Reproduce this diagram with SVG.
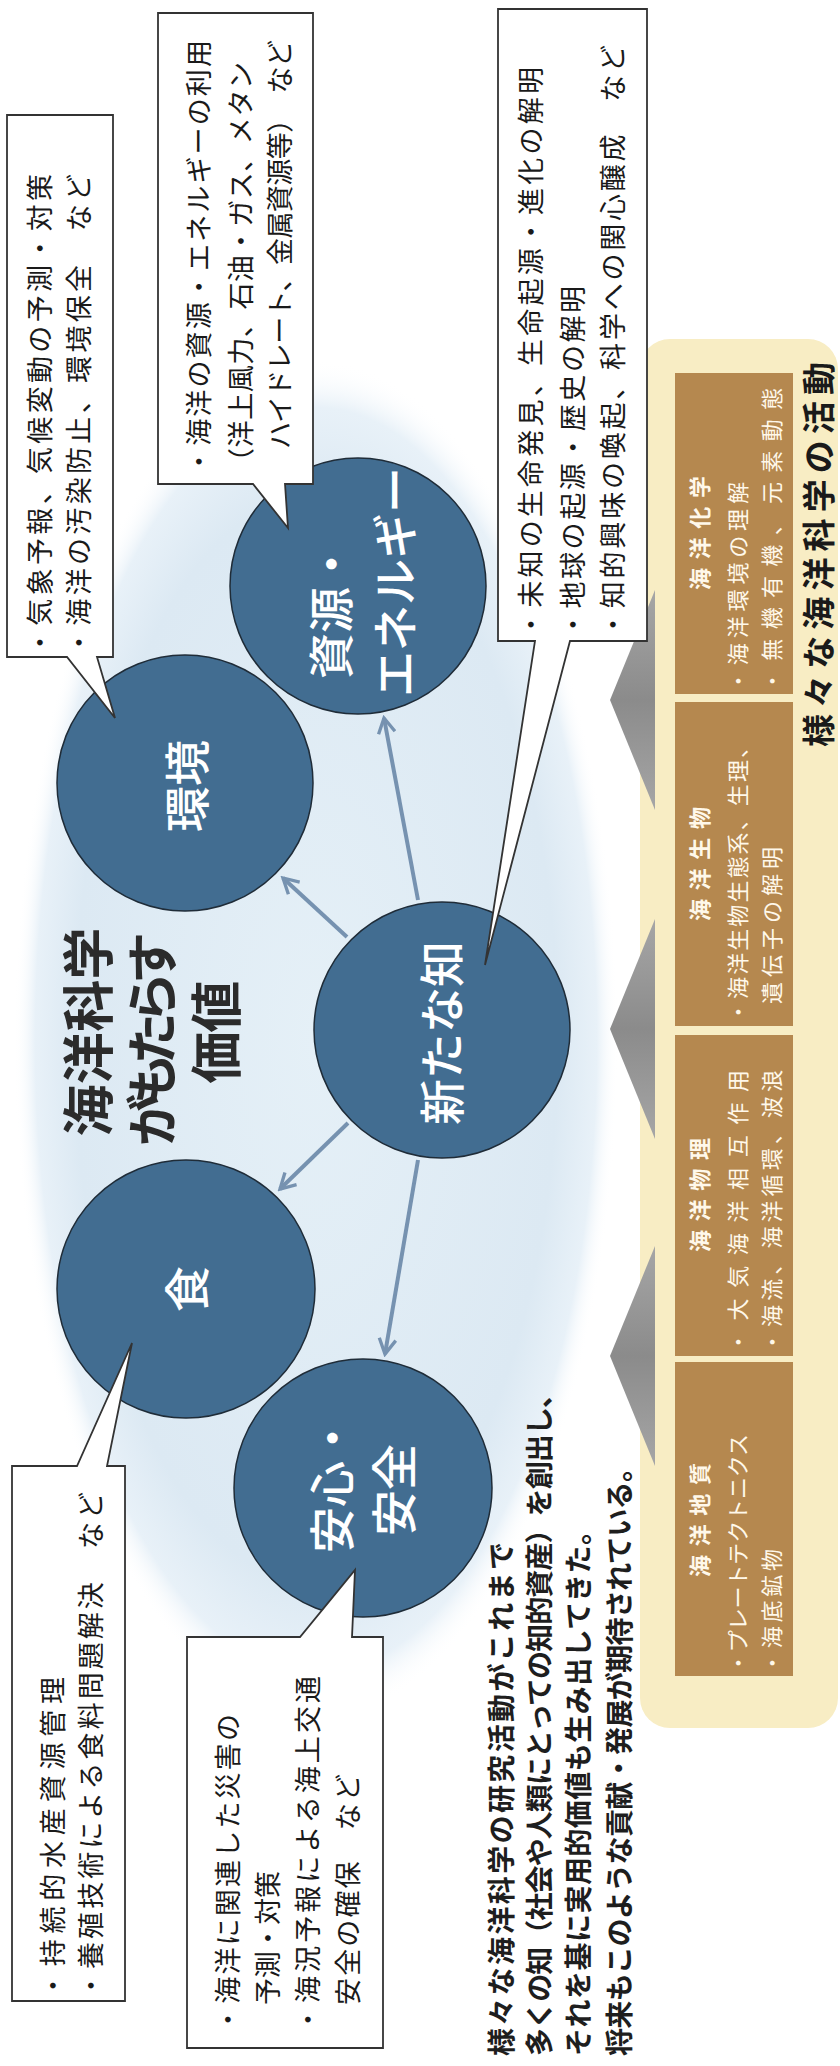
<svg xmlns="http://www.w3.org/2000/svg" width="840" height="2066" viewBox="0 0 840 2066">
<defs>
<radialGradient id="bgGrad" cx="0.5" cy="0.5" r="0.5">
<stop offset="0" stop-color="#e5f0f7"/>
<stop offset="0.8" stop-color="#dce9f3"/>
<stop offset="0.93" stop-color="#e8f1f8"/>
<stop offset="1" stop-color="#ffffff" stop-opacity="0"/>
</radialGradient>
<linearGradient id="triGrad" x1="0" y1="0" x2="0" y2="1">
<stop offset="0" stop-color="#a6a6a6"/>
<stop offset="0.5" stop-color="#8b8b8b"/>
<stop offset="1" stop-color="#a6a6a6"/>
</linearGradient>
<marker id="ah" viewBox="0 0 12 12" refX="10" refY="6" markerWidth="5" markerHeight="5" orient="auto" markerUnits="strokeWidth">
<path d="M1,1 L10,6 L1,11" fill="none" stroke="#7692b0" stroke-width="2"/>
</marker>
<style>
.cj { font-family: "Noto Sans CJK JP", "Noto Sans CJK SC", sans-serif; }
.node circle { fill: #426d91; stroke: #1f2c38; stroke-width: 1.5; }
.lbl { fill: #ffffff; font-size: 46px; font-weight: 500; }
.callout path { fill: #ffffff; stroke: #333333; stroke-width: 1.8; }
.ct { fill: #1a1a1a; font-size: 27px; }
.box rect { fill: #b5884f; }
.bt { fill: #fff8ea; font-size: 22px; }
.btt { fill: #fff8ea; font-size: 22px; font-weight: 700; }
.conn line { stroke: #7692b0; stroke-width: 4; marker-end: url(#ah); }
.tri { fill: url(#triGrad); }
.para { fill: #1e1e1e; font-size: 28px; font-weight: 700; }
.head { fill: #2b2b2b; font-size: 52px; font-weight: 700; }
</style>
</defs>

<rect x="0" y="0" width="840" height="2066" fill="#ffffff"/>

<!-- background -->
<ellipse cx="316" cy="1040" rx="302" ry="680" fill="url(#bgGrad)"/>

<!-- activity panel -->
<g id="panel">
<rect x="640" y="339" width="198" height="1389" rx="30" fill="#f8edc4"/>
<text class="cj" x="831" y="747" transform="rotate(-90 831 747)" font-size="33" font-weight="700" fill="#1a1a1a" textLength="385" lengthAdjust="spacing">様々な海洋科学の活動</text>
</g>

<g id="box-chem" class="box">
<rect x="675" y="373" width="118" height="321"/>
<text class="cj btt" x="708" y="533" text-anchor="middle" transform="rotate(-90 708 533)" textLength="114" lengthAdjust="spacing">海洋化学</text>
<text class="cj bt" x="746" y="692" transform="rotate(-90 746 692)" textLength="210" lengthAdjust="spacing">・海洋環境の理解</text>
<text class="cj bt" x="780" y="692" transform="rotate(-90 780 692)" textLength="304" lengthAdjust="spacing">・無機有機、元素動態</text>
</g>

<g id="box-bio" class="box">
<rect x="675" y="702" width="118" height="324"/>
<text class="cj btt" x="708" y="864" text-anchor="middle" transform="rotate(-90 708 864)" textLength="114" lengthAdjust="spacing">海洋生物</text>
<text class="cj bt" x="746" y="1023" transform="rotate(-90 746 1023)" textLength="287" lengthAdjust="spacing">・海洋生物生態系、生理、</text>
<text class="cj bt" x="780" y="1004" transform="rotate(-90 780 1004)" textLength="157" lengthAdjust="spacing">遺伝子の解明</text>
</g>

<g id="box-phys" class="box">
<rect x="675" y="1035" width="118" height="321"/>
<text class="cj btt" x="708" y="1195" text-anchor="middle" transform="rotate(-90 708 1195)" textLength="114" lengthAdjust="spacing">海洋物理</text>
<text class="cj bt" x="746" y="1353" transform="rotate(-90 746 1353)" textLength="283" lengthAdjust="spacing">・大気海洋相互作用</text>
<text class="cj bt" x="780" y="1353" transform="rotate(-90 780 1353)" textLength="283" lengthAdjust="spacing">・海流、海洋循環、波浪</text>
</g>

<g id="box-geo" class="box">
<rect x="675" y="1362" width="118" height="314"/>
<text class="cj btt" x="708" y="1520" text-anchor="middle" transform="rotate(-90 708 1520)" textLength="114" lengthAdjust="spacing">海洋地質</text>
<text class="cj bt" x="746" y="1674" transform="rotate(-90 746 1674)" textLength="240" lengthAdjust="spacing">・プレートテクトニクス</text>
<text class="cj bt" x="780" y="1674" transform="rotate(-90 780 1674)" textLength="125" lengthAdjust="spacing">・海底鉱物</text>
</g>

<g id="pointers">
<polygon class="tri" points="610,700 655,590 655,810"/>
<polygon class="tri" points="610,1029 655,919 655,1139"/>
<polygon class="tri" points="610,1356 655,1246 655,1466"/>
</g>

<!-- title -->
<g id="title">
<text class="cj head" x="108" y="1032" text-anchor="middle" transform="rotate(-90 108 1032)" textLength="209" lengthAdjust="spacing">海洋科学</text>
<text class="cj head" x="172" y="1039" text-anchor="middle" transform="rotate(-90 172 1039)" textLength="214" lengthAdjust="spacing">がもたらす</text>
<text class="cj head" x="236" y="1032" text-anchor="middle" transform="rotate(-90 236 1032)" textLength="103" lengthAdjust="spacing">価値</text>
</g>

<!-- connectors -->
<g id="connectors" class="conn">
<line x1="418" y1="900" x2="384" y2="718"/>
<line x1="347" y1="937" x2="283" y2="878"/>
<line x1="348" y1="1123" x2="280" y2="1189"/>
<line x1="418" y1="1160" x2="385" y2="1354"/>
</g>

<!-- nodes -->
<g id="node-kankyo" class="node">
<circle cx="185" cy="783" r="128"/>
<text class="cj lbl" x="204" y="786" text-anchor="middle" transform="rotate(-90 204 786)">環境</text>
</g>
<g id="node-shigen" class="node">
<circle cx="358" cy="586" r="128"/>
<text class="cj lbl" x="348" y="679" transform="rotate(-90 348 679)">資源・</text>
<text class="cj lbl" x="412" y="697" transform="rotate(-90 412 697)">エネルギー</text>
</g>
<g id="node-chi" class="node">
<circle cx="442" cy="1030" r="128"/>
<text class="cj lbl" x="459" y="1033" text-anchor="middle" transform="rotate(-90 459 1033)">新たな知</text>
</g>
<g id="node-shoku" class="node">
<circle cx="186" cy="1289" r="129"/>
<text class="cj lbl" x="204" y="1289" text-anchor="middle" transform="rotate(-90 204 1289)">食</text>
</g>
<g id="node-anshin" class="node">
<circle cx="363" cy="1488" r="129"/>
<text class="cj lbl" x="349" y="1553" transform="rotate(-90 349 1553)">安心・</text>
<text class="cj lbl" x="411" y="1490" text-anchor="middle" transform="rotate(-90 411 1490)">安全</text>
</g>

<!-- callouts -->
<g id="callout-kankyo" class="callout">
<path d="M7,115 H113 V657 H97 L115,718 L67,657 H7 Z"/>
<text class="cj ct" x="50" y="656" transform="rotate(-90 50 656)" textLength="482" lengthAdjust="spacing">・気象予報、気候変動の予測・対策</text>
<text class="cj ct" x="89" y="656" transform="rotate(-90 89 656)" textLength="482" lengthAdjust="spacing">・海洋の汚染防止、環境保全　など</text>
</g>
<g id="callout-shigen" class="callout">
<path d="M158,13 H313 V484 H285 L288,528 L253,484 H158 Z"/>
<text class="cj ct" x="209" y="475" transform="rotate(-90 209 475)" textLength="435" lengthAdjust="spacing">・海洋の資源・エネルギーの利用</text>
<text class="cj ct" x="251" y="475" transform="rotate(-90 251 475)" textLength="413" lengthAdjust="spacing">（洋上風力、石油・ガス、メタン</text>
<text class="cj ct" x="290" y="449" transform="rotate(-90 290 449)" textLength="409" lengthAdjust="spacing">ハイドレート、金属資源等）　など</text>
</g>
<g id="callout-chi" class="callout">
<path d="M498,9 H647 V641 H570 L485,965 L535,641 H498 Z"/>
<text class="cj ct" x="541" y="638" transform="rotate(-90 541 638)" textLength="571" lengthAdjust="spacing">・未知の生命発見、生命起源・進化の解明</text>
<text class="cj ct" x="583" y="638" transform="rotate(-90 583 638)" textLength="352" lengthAdjust="spacing">・地球の起源・歴史の解明</text>
<text class="cj ct" x="623" y="638" transform="rotate(-90 623 638)" textLength="593" lengthAdjust="spacing">・知的興味の喚起、科学への関心醸成　など</text>
</g>
<g id="callout-shoku" class="callout">
<path d="M12,1466 H77 L132,1343 L107,1466 H125 V2001 H12 Z"/>
<text class="cj ct" x="63" y="1999" transform="rotate(-90 63 1999)" textLength="322" lengthAdjust="spacing">・持続的水産資源管理</text>
<text class="cj ct" x="101" y="1999" transform="rotate(-90 101 1999)" textLength="507" lengthAdjust="spacing">・養殖技術による食料問題解決　など</text>
</g>
<g id="callout-anshin" class="callout">
<path d="M187,1637 H300 L355,1570 L352,1637 H383 V2048 H187 Z"/>
<text class="cj ct" x="238" y="2033" transform="rotate(-90 238 2033)" textLength="319" lengthAdjust="spacing">・海洋に関連した災害の</text>
<text class="cj ct" x="278" y="2005" transform="rotate(-90 278 2005)" textLength="134" lengthAdjust="spacing">予測・対策</text>
<text class="cj ct" x="318" y="2033" transform="rotate(-90 318 2033)" textLength="357" lengthAdjust="spacing">・海況予報による海上交通</text>
<text class="cj ct" x="358" y="2005" transform="rotate(-90 358 2005)" textLength="231" lengthAdjust="spacing">安全の確保　など</text>
</g>

<!-- paragraph -->
<g id="summary">
<text class="cj para" x="512" y="2056" transform="rotate(-90 512 2056)" textLength="514" lengthAdjust="spacing">様々な海洋科学の研究活動がこれまで</text>
<text class="cj para" x="550" y="2056" transform="rotate(-90 550 2056)" textLength="676" lengthAdjust="spacing">多くの知（社会や人類にとっての知的資産）を創出し、</text>
<text class="cj para" x="589" y="2056" transform="rotate(-90 589 2056)" textLength="539" lengthAdjust="spacing">それを基に実用的価値も生み出してきた。</text>
<text class="cj para" x="630" y="2056" transform="rotate(-90 630 2056)" textLength="602" lengthAdjust="spacing">将来もこのような貢献・発展が期待されている。</text>
</g>
</svg>
